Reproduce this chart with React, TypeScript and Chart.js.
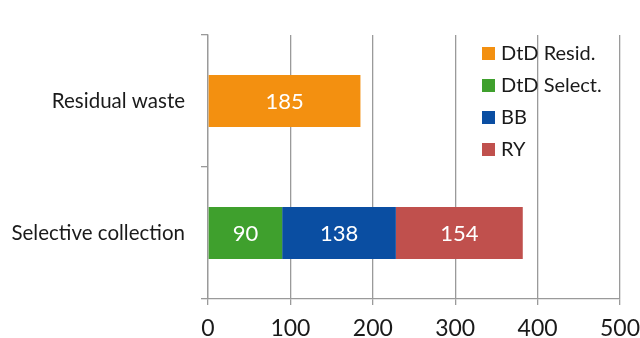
import React, { useEffect, useRef } from "react";
import { Chart, registerables } from "chart.js";

Chart.register(...registerables);

const categories = ["Residual waste", "Selective collection"];
const seriesNames = ["DtD Resid.", "DtD Select.", "BB", "RY"];
const seriesColors = ["#F39010", "#3FA02D", "#0A4EA2", "#C0504D"];
const dtdResid = [185, null];
const dtdSelect = [null, 90];
const bb = [null, 138];
const ry = [null, 154];
const xTicks = [0, 100, 200, 300, 400, 500];

const FONT = "Lato, 'Open Sans', sans-serif";
const GRID = "#9a9a9a";

// Writes each segment's value in white at the middle of its bar
const valueLabels = {
  id: "valueLabels",
  afterDatasetsDraw(chart: any) {
    const { ctx } = chart;
    ctx.save();
    ctx.font = `22px ${FONT}`;
    ctx.fillStyle = "#ffffff";
    ctx.textAlign = "center";
    ctx.textBaseline = "middle";
    chart.data.datasets.forEach((ds: any, di: number) => {
      const meta = chart.getDatasetMeta(di);
      meta.data.forEach((bar: any, i: number) => {
        const v = ds.data[i];
        if (v == null) return;
        const cx = (bar.x + bar.base) / 2;
        ctx.fillText(String(v), cx, bar.y + 1);
      });
    });
    ctx.restore();
  },
};

// Vertical legend inside the plot area, top right
const insideLegend = {
  id: "insideLegend",
  afterDraw(chart: any) {
    const { ctx, chartArea } = chart;
    const x0 = chartArea.left + 274;
    const y0 = chartArea.top + 18;
    ctx.save();
    ctx.font = `20px ${FONT}`;
    ctx.textAlign = "left";
    ctx.textBaseline = "middle";
    chart.data.datasets.forEach((ds: any, i: number) => {
      const y = y0 + i * 32;
      ctx.fillStyle = ds.backgroundColor;
      ctx.fillRect(x0, y - 6, 13, 13);
      ctx.fillStyle = "#1a1a1a";
      ctx.fillText(ds.label, x0 + 19, y + 1);
    });
    ctx.restore();
  },
};

export default function App() {
  const ref = useRef<HTMLCanvasElement | null>(null);

  useEffect(() => {
    if (!ref.current) return;
    const series = [dtdResid, dtdSelect, bb, ry];
    const chart = new Chart(ref.current, {
      type: "bar",
      data: {
        labels: categories,
        datasets: series.map((d, i) => ({
          label: seriesNames[i],
          data: d,
          backgroundColor: seriesColors[i],
          borderWidth: 0,
          barPercentage: 0.395,
          categoryPercentage: 1,
        })),
      },
      options: {
        indexAxis: "y",
        animation: false,
        responsive: false,
        maintainAspectRatio: false,
        layout: { padding: { top: 35, right: 20, left: 0, bottom: 0 } },
        plugins: {
          legend: { display: false },
          tooltip: { enabled: false },
        },
        scales: {
          x: {
            stacked: true,
            min: 0,
            max: 500,
            afterBuildTicks: (s: any) => {
              s.ticks = xTicks.map((v) => ({ value: v }));
            },
            afterFit: (s: any) => {
              s.height = 39;
              s.paddingLeft = 0;
              s.paddingRight = 0;
            },
            ticks: {
              color: "#1a1a1a",
              font: { family: FONT, size: 23 },
              padding: 10,
              maxRotation: 0,
            },
            grid: {
              color: GRID,
              lineWidth: 1.3,
              tickLength: 6,
              drawOnChartArea: true,
            },
            border: { color: GRID, width: 1.3 },
          },
          y: {
            stacked: true,
            afterFit: (s: any) => {
              s.width = 208;
              s.paddingTop = 0;
              s.paddingBottom = 0;
            },
            ticks: {
              color: "#1a1a1a",
              font: { family: FONT, size: 20.5 },
              padding: 16,
            },
            grid: {
              color: GRID,
              lineWidth: 1.3,
              tickLength: 7,
              drawOnChartArea: false,
              offset: true,
            },
            border: { color: GRID, width: 1.3 },
          },
        },
      },
      plugins: [valueLabels, insideLegend],
    });
    return () => chart.destroy();
  }, []);

  return (
    <div style={{ position: "fixed", left: 0, top: 0, width: 640, height: 338, background: "#fff" }}>
      <canvas ref={ref} width={640} height={338} />
    </div>
  );
}
